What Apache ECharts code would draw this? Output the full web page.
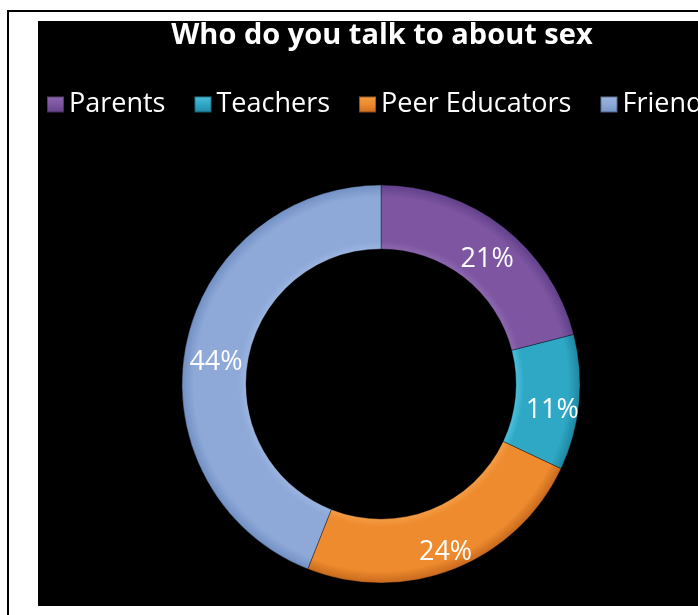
<!DOCTYPE html>
<html>
<head>
<meta charset="utf-8">
<script src="https://cdn.jsdelivr.net/npm/echarts@6/dist/echarts.min.js"></script>
<style>
  html, body { margin: 0; padding: 0; background: #ffffff; }
  #chart { width: 698px; height: 615px; }
</style>
</head>
<body>
<div id="chart"></div>
<script>
// Survey answers: who students talk to about sex
const categories = ['Parents', 'Teachers', 'Peer Educators', 'Friends'];
const shares = [21, 11, 24, 44];
const titleText = 'Who do you talk to about sex';

// Base colour per slice: [edge shade, body, highlight]
const palette = [
  ['#62408a', '#7d55a0', '#8c68b0'],
  ['#1f86a0', '#2fa8c6', '#4cc0dc'],
  ['#c8691d', '#ee8b2e', '#f39c45'],
  ['#7290c4', '#8ea9d8', '#9bb4df']
];

const CX = 381, CY = 384, R_IN = 135, R_OUT = 199;

// Ring gradient giving each slice a soft bevelled look
function ringFill(c) {
  const k = R_IN / R_OUT;
  return {
    type: 'radial', x: CX, y: CY, r: R_OUT, global: true,
    colorStops: [
      { offset: 0, color: c[2] },
      { offset: k, color: c[2] },
      { offset: k + 0.04, color: c[1] },
      { offset: 0.94, color: c[1] },
      { offset: 1, color: c[0] }
    ]
  };
}

function iconFill(c) {
  return {
    type: 'linear', x: 0, y: 0, x2: 0, y2: 1,
    colorStops: [
      { offset: 0, color: c[2] },
      { offset: 0.5, color: c[1] },
      { offset: 1, color: c[0] }
    ]
  };
}

const pieData = categories.map((name, i) => ({
  name: name,
  value: shares[i],
  itemStyle: { color: ringFill(palette[i]) }
}));

const chart = echarts.init(document.getElementById('chart'), null, { renderer: 'canvas' });

chart.setOption({
  backgroundColor: '#ffffff',
  animation: false,
  graphic: [
    {
      type: 'rect', z: -10,
      shape: { x: 8, y: 11, width: 760, height: 680 },
      style: { fill: '#ffffff', stroke: '#000000', lineWidth: 2 }
    },
    {
      type: 'rect', z: -9,
      shape: { x: 38, y: 21, width: 700, height: 585 },
      style: { fill: '#000000' }
    }
  ],
  title: {
    text: titleText,
    left: 377,
    textAlign: 'center',
    top: 16,
    textStyle: {
      color: '#ffffff',
      fontFamily: 'Open Sans',
      fontWeight: 'bold',
      fontSize: 29
    }
  },
  legend: {
    orient: 'horizontal',
    left: 41,
    top: 86,
    width: 1200,
    itemWidth: 17,
    itemHeight: 16,
    itemGap: 28,
    icon: 'rect',
    data: categories.map((name, i) => ({
      name: name,
      itemStyle: { color: iconFill(palette[i]) }
    })),
    textStyle: {
      color: '#ffffff',
      fontFamily: 'Open Sans',
      fontSize: 27
    }
  },
  series: [
    {
      type: 'pie',
      center: [CX, CY],
      radius: [R_IN, R_OUT],
      startAngle: 90,
      clockwise: true,
      avoidLabelOverlap: false,
      label: {
        show: true,
        position: 'inside',
        formatter: '{c}%',
        color: '#ffffff',
        fontFamily: 'Open Sans',
        fontSize: 27,
        offset: [2, 10]
      },
      labelLine: { show: false },
      emphasis: { disabled: true },
      itemStyle: {
        borderColor: 'rgba(0,0,0,0.35)',
        borderWidth: 1
      },
      data: pieData
    }
  ]
});
</script>
</body>
</html>
